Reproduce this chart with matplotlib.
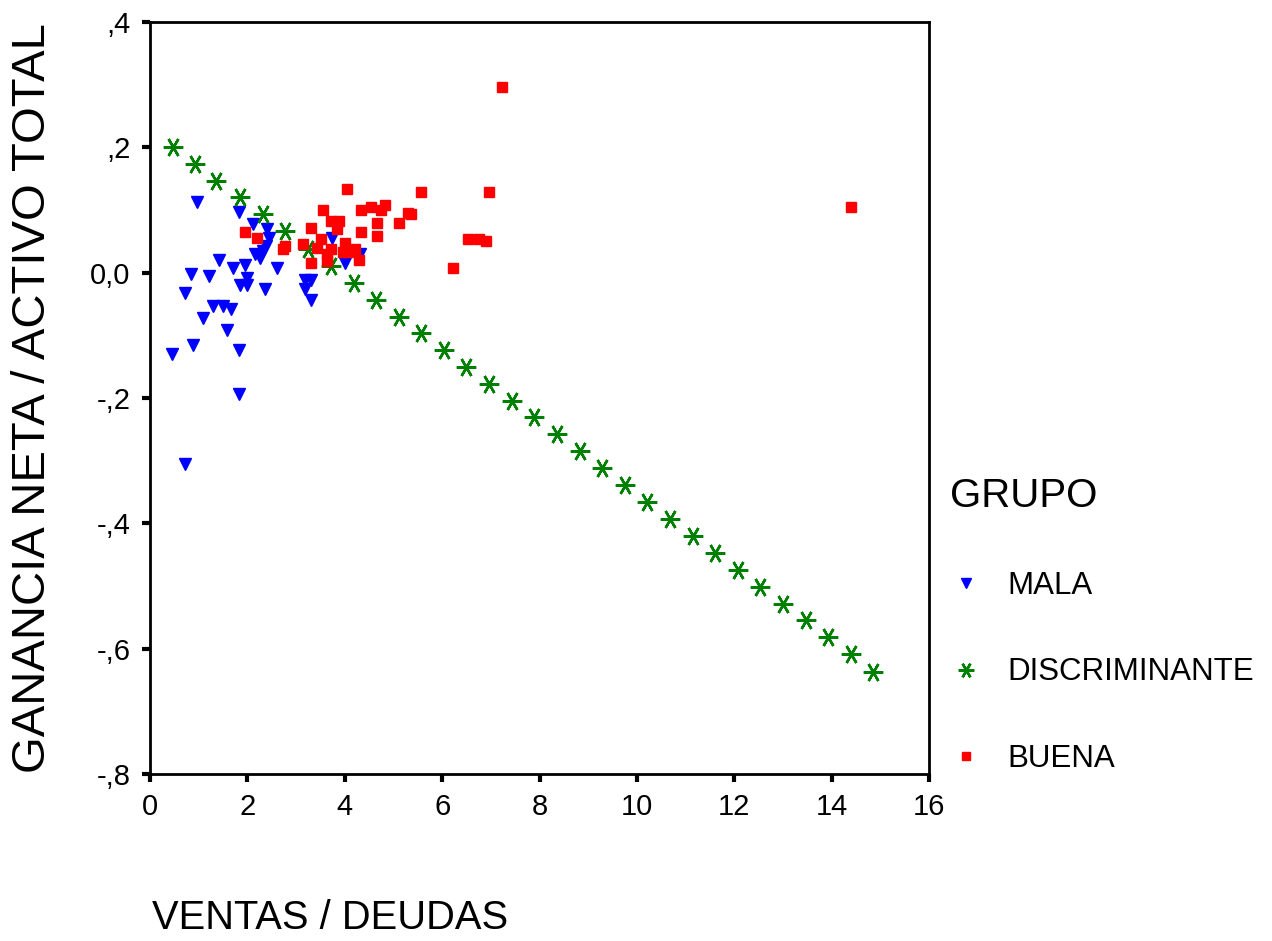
import matplotlib
matplotlib.use("Agg")
import matplotlib.pyplot as plt

# MALA group (ventas/deudas, ganancia neta/activo total)
mala_x = [0.97, 1.83, 2.11, 2.40, 2.44, 2.38, 2.32, 2.16, 2.26, 1.42, 1.70, 1.95,
          2.61, 0.84, 1.21, 1.99, 1.85, 1.99, 2.36, 3.18, 3.31, 3.18, 3.31, 3.74,
          4.00, 4.31, 0.72, 1.29, 1.50, 1.66, 1.09, 1.58, 0.88, 0.45, 1.83, 1.83,
          0.72]
mala_y = [0.112, 0.097, 0.078, 0.070, 0.056, 0.043, 0.035, 0.030, 0.024, 0.020,
          0.008, 0.013, 0.008, -0.002, -0.006, -0.008, -0.019, -0.019, -0.026,
          -0.011, -0.011, -0.026, -0.044, 0.056, 0.016, 0.030, -0.033, -0.053,
          -0.053, -0.058, -0.072, -0.091, -0.115, -0.129, -0.123, -0.193, -0.306]

# discriminant line points
disc_x = [0.47, 0.92, 1.35, 1.85, 2.32, 2.77, 3.24, 3.72, 4.19, 4.64, 5.11, 5.56,
          6.04, 6.49, 6.96, 7.43, 7.89, 8.36, 8.83, 9.28, 9.75, 10.21, 10.68,
          11.15, 11.60, 12.07, 12.53, 13.00, 13.47, 13.92, 14.39, 14.85]
disc_y = [0.201, 0.174, 0.147, 0.120, 0.094, 0.066, 0.037, 0.011, -0.016, -0.043,
          -0.070, -0.097, -0.124, -0.150, -0.177, -0.204, -0.231, -0.258, -0.285,
          -0.312, -0.339, -0.366, -0.393, -0.420, -0.447, -0.474, -0.501, -0.528,
          -0.555, -0.582, -0.609, -0.637]

# BUENA group
buena_x = [1.95, 2.20, 2.73, 2.77, 3.14, 3.31, 3.31, 3.43, 3.51, 3.55, 3.72, 3.88,
           3.84, 3.63, 3.63, 3.72, 3.96, 4.07, 4.00, 4.05, 4.21, 4.29, 4.33, 4.33,
           4.54, 4.66, 4.66, 4.74, 4.83, 5.11, 5.30, 5.36, 5.56, 6.22, 6.53, 6.76,
           6.90, 6.96, 7.23, 14.39]
buena_y = [0.065, 0.056, 0.038, 0.043, 0.045, 0.072, 0.016, 0.040, 0.054, 0.100,
           0.083, 0.083, 0.069, 0.030, 0.019, 0.037, 0.033, 0.033, 0.048, 0.134,
           0.037, 0.021, 0.100, 0.065, 0.105, 0.080, 0.059, 0.100, 0.108, 0.080,
           0.096, 0.094, 0.129, 0.008, 0.054, 0.054, 0.051, 0.129, 0.296, 0.104]

x_ticks = [0, 2, 4, 6, 8, 10, 12, 14, 16]
y_ticks = [0.4, 0.2, 0.0, -0.2, -0.4, -0.6, -0.8]
y_tick_labels = [",4", ",2", "0,0", "-,2", "-,4", "-,6", "-,8"]

plt.rcParams['font.family'] = ['Liberation Sans', 'DejaVu Sans']

fig = plt.figure(figsize=(12.72, 9.41), dpi=100)
ax = fig.add_axes([150 / 1272, 1 - 774 / 941, 779 / 1272, 752 / 941])

ax.plot(mala_x, mala_y, linestyle='none', marker='v', markersize=9,
        color='#0000ff', label='MALA')
ax.plot(disc_x, disc_y, linestyle='none', marker=(6, 2, 90), markersize=14,
        markeredgewidth=1.8, color='#008000', label='DISCRIMINANTE')
ax.plot(buena_x, buena_y, linestyle='none', marker='s', markersize=6.5,
        color='#ff0000', label='BUENA')

ax.set_xlim(0, 16)
ax.set_ylim(-0.8, 0.4)
ax.set_xticks(x_ticks)
ax.set_yticks(y_ticks)
ax.set_yticklabels(y_tick_labels)
ax.tick_params(direction='out', length=6, width=3, labelsize=21, pad=8)
for s in ax.spines.values():
    s.set_linewidth(2)

fig.text(152 / 1272, 1 - 918 / 941, 'VENTAS / DEUDAS', fontsize=28.7,
         ha='left', va='center')
fig.text(33 / 1272, 1 - 398 / 941, 'GANANCIA NETA / ACTIVO TOTAL', fontsize=34,
         rotation=90, ha='center', va='center')

leg = ax.legend(loc='upper left', bbox_to_anchor=(950 / 1272, 1 - 477 / 941),
                bbox_transform=fig.transFigure, frameon=False, title='GRUPO',
                fontsize=22.5, title_fontsize=29, labelspacing=1.8,
                handlelength=1.0, handletextpad=0.85, markerscale=0.8,
                alignment='left', borderpad=0, borderaxespad=0)

fig.savefig('out.png', dpi=100)
